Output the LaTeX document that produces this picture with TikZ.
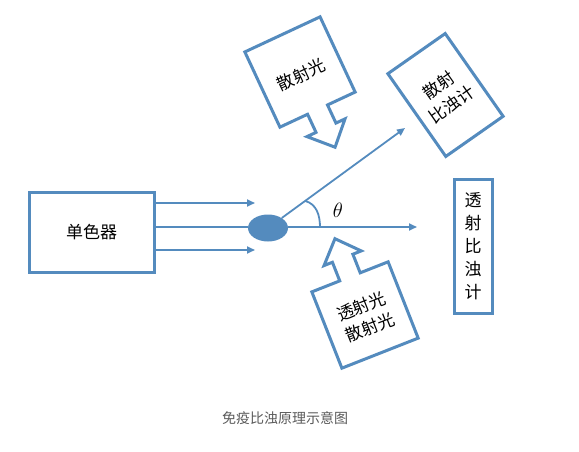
\documentclass[tikz,border=0pt]{standalone}
\usepackage{fontspec}
\setmainfont{Noto Sans CJK SC}
\usepackage{amsmath}
\usetikzlibrary{shapes.geometric}
\usetikzlibrary{arrows.meta}
\usetikzlibrary{calc}

\definecolor{lineblue}{RGB}{84,139,190}
\definecolor{captiongray}{RGB}{90,90,90}

\tikzset{
	box/.style={draw=lineblue,line width=3pt,inner sep=0pt,align=center,font=\fontsize{17}{23}\selectfont},
	calloutline/.style={draw=lineblue,line width=3pt,fill=white},
	tag/.style={align=center,inner sep=0pt,font=\fontsize{17}{23}\selectfont,transform shape},
	beam/.style={draw=lineblue,line width=1.8pt},
	ray/.style={beam,-{Triangle[length=8pt,width=7pt]}}
}

\begin{document}
\begin{tikzpicture}[x=1pt,y=1pt]
\useasboundingbox (0,0) rectangle (579,451);

%nodes
\node[box,minimum width=125pt,minimum height=80pt] (mono) at (91.5,219) {单色器};
\node[ellipse,fill=lineblue,minimum width=40pt,minimum height=27pt,inner sep=0pt] (particle) at (268,223) {};
\node[box,minimum width=38pt,minimum height=134pt] (transmeter) at (473,205) {透\\射\\比\\浊\\计};
\node[box,rotate=35,minimum width=70pt,minimum height=101pt] (scatmeter) at (445.5,356) {散射\\比浊计};
\node[font=\fontsize{20}{22}\selectfont] (theta) at (338,241) {$\theta$};
\node[font=\fontsize{14}{16}\selectfont,text=captiongray] (caption) at (285,33) {免疫比浊原理示意图};

%free ends
\coordinate (uptip) at (255,248);
\coordinate (lowtip) at (255,201);
\coordinate (transtip) at (417,224);
\coordinate (scattip) at (405,323);
\coordinate (arcstart) at ($(particle.center)+(36:46)$);
\coordinate (arcend) at ($(particle.center |- transtip)+(52,0)$);

%rays
\draw[ray] (mono.east |- uptip) -- (uptip);
\draw[ray] (mono.east |- lowtip) -- (lowtip);
\draw[beam] (mono.east |- transtip) -- (particle.west |- transtip);
\draw[ray] (particle.east |- transtip) -- (transtip);
\draw[ray] (particle.36) -- (scattip);
\draw[beam] (arcstart) to[out=-15,in=90] (arcend);

%callouts
\begin{scope}[shift={(300,379)},rotate=25]
	\draw[calloutline] (-41.5,41.5) -- (41.5,41.5) -- (41.5,-41.5) -- (11,-41.5) -- (11,-61.5) -- (21,-61.5) -- (0,-83) -- (-21,-61.5) -- (-11,-61.5) -- (-11,-41.5) -- (-41.5,-41.5) -- cycle;
	\node[tag] (scatlight) at (0,-3) {散射光};
\end{scope}
\begin{scope}[shift={(365,136)},rotate=21.5]
	\draw[calloutline] (-41,-41) -- (41,-41) -- (41,41) -- (11,41) -- (11,61) -- (20,61) -- (0,82) -- (-20,61) -- (-11,61) -- (-11,41) -- (-41,41) -- cycle;
	\node[tag] (bothlight) at (0,-2) {透射光\\散射光};
\end{scope}
\end{tikzpicture}
\end{document}
